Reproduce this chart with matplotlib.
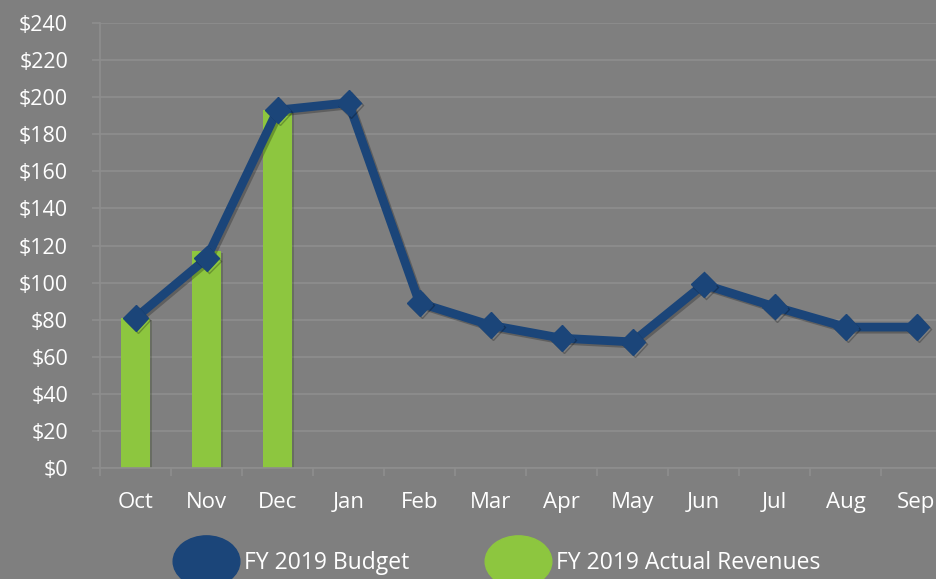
import matplotlib.pyplot as plt
import matplotlib.patheffects as pe
from matplotlib.lines import Line2D
from matplotlib.path import Path
from matplotlib.transforms import Affine2D

months = ['Oct', 'Nov', 'Dec', 'Jan', 'Feb', 'Mar', 'Apr', 'May', 'Jun', 'Jul', 'Aug', 'Sep']
budget = [81, 113, 193, 197, 89, 77, 70, 68, 99, 87, 76, 76]
actual = [81, 117, 193]
yticks = list(range(0, 241, 20))

bg = '#7f7f7f'
grid_c = '#8e8e8e'
blue = '#1b4579'
green = '#8dc63f'

plt.rcParams['font.family'] = ['Open Sans', 'DejaVu Sans']

fig = plt.figure(figsize=(9.37, 5.79), dpi=100, facecolor=bg)
ax = fig.add_axes([100 / 937, 111 / 579, 852 / 937, 445 / 579], facecolor=bg)

x = list(range(len(months)))
ax.bar(x[:len(actual)], actual, width=0.41, color=green, zorder=2,
       path_effects=[pe.SimplePatchShadow(offset=(1.5, -1.5), alpha=0.25), pe.Normal()])
ax.plot(x, budget, color=blue, lw=6.3, marker='D', ms=13, zorder=3,
        path_effects=[pe.SimpleLineShadow(offset=(1.5, -1.5), alpha=0.25), pe.Normal()])

ax.set_xlim(-0.5, 11.5)
ax.set_ylim(0, 240)
ax.set_yticks(yticks)
ax.set_yticklabels([f'${v}' for v in yticks])
ax.set_xticks(x)
ax.set_xticklabels(months)
ax.set_xticks([i + 0.5 for i in range(-1, 12)], minor=True)

ax.grid(axis='y', color=grid_c, lw=1.2, zorder=0)
for s in ['top', 'right']:
    ax.spines[s].set_visible(False)
for s in ['left', 'bottom']:
    ax.spines[s].set_color(grid_c)
    ax.spines[s].set_linewidth(1.2)

ax.tick_params(axis='y', colors=grid_c, length=6, width=1.2, pad=17, labelcolor='white', labelsize=15.5)
ax.tick_params(axis='x', which='major', length=0, pad=17, labelcolor='white', labelsize=16)
ax.tick_params(axis='x', which='minor', length=6, width=1.2, color=grid_c)

ell = Path.unit_circle().transformed(Affine2D().scale(1.3, 1.0))
handles = [Line2D([], [], ls='none', marker=ell, ms=48, color=blue),
           Line2D([], [], ls='none', marker=ell, ms=48, color=green)]
leg = fig.legend(handles, ['FY 2019 Budget', 'FY 2019 Actual Revenues'], ncol=2,
                 loc='center', bbox_to_anchor=(0.530, 0.027), frameon=False,
                 fontsize=16.5, labelcolor='white', handlelength=2.9, handletextpad=0.2,
                 columnspacing=3.3)

fig.savefig('out.png', dpi=100, facecolor=bg)
